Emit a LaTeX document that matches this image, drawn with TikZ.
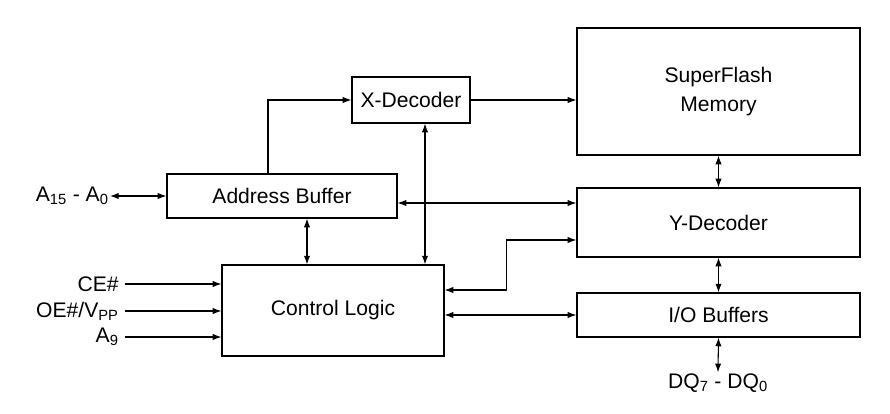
\documentclass[tikz,border=0pt]{standalone}
\usepackage{fontspec}
\setmainfont{Liberation Sans}
\usetikzlibrary{arrows.meta}

\tikzset{
  blk/.style={draw, line width=1pt, inner sep=0pt, align=center},
  lbl/.style={inner sep=1pt},
  conn/.style={line width=0.9pt},
}

\begin{document}
\begin{tikzpicture}[x=0.03cm, y=-0.03cm, >={Latex[length=2.6mm,width=1.9mm]},
  font=\fontsize{18}{24}\selectfont]
  \useasboundingbox (0,0) rectangle (890,413);

  % blocks
  \node (xdec) [blk, minimum width=3.54cm, minimum height=1.38cm] at (411,100) {X-Decoder};
  \node (mem) [blk, minimum width=8.49cm, minimum height=3.81cm] at (718.5,91.5) {SuperFlash\\Memory};
  \node (addr) [blk, minimum width=6.9cm, minimum height=1.32cm] at (282,196) {Address Buffer};
  \node (ydec) [blk, minimum width=8.49cm, minimum height=2.07cm] at (718.5,222.5) {Y-Decoder};
  \node (ctrl) [blk, minimum width=6.66cm, minimum height=2.73cm] at (333,310.5) {Control Logic};
  \node (io) [blk, minimum width=8.49cm, minimum height=1.32cm] at (718.5,315) {I/O Buffers};

  % pin labels
  \node (addrpins) [lbl, anchor=east] at (110,196) {A\textsubscript{15} - A\textsubscript{0}};
  \node (ce) [lbl, anchor=east] at (120,284) {CE\#};
  \node (oe) [lbl, anchor=east] at (120,311) {OE\#/V\textsubscript{PP}};
  \node (a9) [lbl, anchor=east] at (120,337) {A\textsubscript{9}};
  \node (dq) [lbl] at (718,383) {DQ\textsubscript{7} - DQ\textsubscript{0}};

  % connectors
  \draw [conn, <->] (addrpins.east) -- (addr.west);
  \draw [conn, ->] ([xshift=-0.42cm]addr.north) |- (xdec.west);
  \draw [conn, ->] (xdec.east) -- (xdec.east -| mem.west);
  \draw [conn, <->] ([xshift=0.42cm]xdec.south) -- ([xshift=0.42cm]xdec.south |- ctrl.north);
  \draw [conn, <->] ([yshift=-0.21cm]addr.east) -- ([yshift=-0.21cm]addr.east -| ydec.west);
  \draw [conn, <->] ([xshift=0.75cm]addr.south) -- ([xshift=0.75cm]addr.south |- ctrl.north);
  \draw [conn, <->] ([yshift=-0.525cm]ydec.west) -- ++(-70,0) |- ([yshift=0.615cm]ctrl.east);
  \draw [conn, <->] (io.west -| ctrl.east) -- (io.west);
  \draw [conn, <->] (mem.south) -- (ydec.north);
  \draw [conn, <->] (ydec.south) -- (io.north);
  \draw [conn, <->] (io.south) -- (dq.north);
  \foreach \p in {ce, oe, a9}
    \draw [conn, ->] ([xshift=4pt]\p.east) -- (\p.east -| ctrl.west);
\end{tikzpicture}
\end{document}
